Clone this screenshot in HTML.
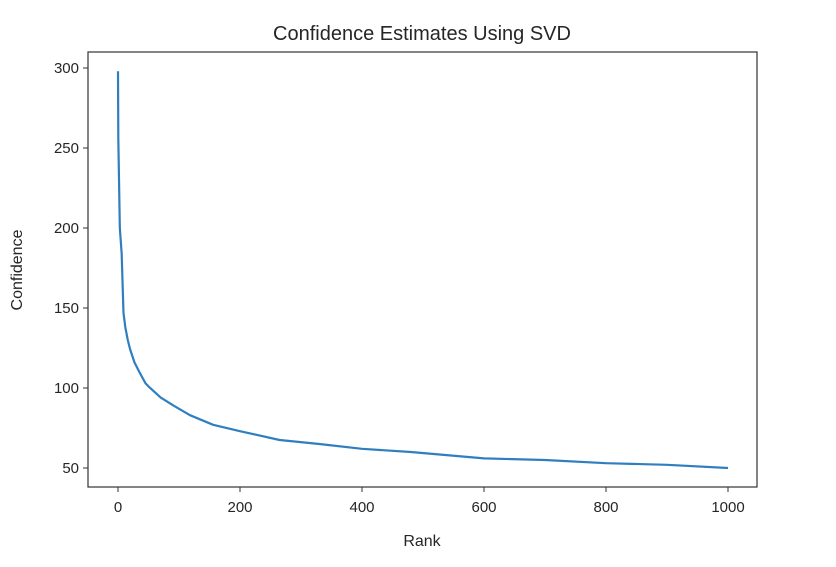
<!DOCTYPE html>
<html><head><meta charset="utf-8"><style>
body{margin:0;background:#fff;width:836px;height:562px;overflow:hidden}
text{font-family:"Liberation Sans",sans-serif;fill:#262626}
</style></head><body>
<svg id="chart" width="836" height="562">
<text x="422" y="40" text-anchor="middle" font-size="20">Confidence Estimates Using SVD</text>
<rect x="88" y="52" width="669" height="435" fill="none" stroke="#333" stroke-width="1.2"/>
<g id="xt"></g><g id="yt"></g>
<path id="line" fill="none" stroke="#2f7fc0" stroke-width="2.2" stroke-linejoin="round"/>
<text x="422" y="546" text-anchor="middle" font-size="16">Rank</text>
<text transform="translate(22,270) rotate(-90)" text-anchor="middle" font-size="16">Confidence</text>
</svg>
<script>
const ranks=[0,0.5,1,3,6,9,12,16,20,27,35,45,50,70,91,118,156,200,265,330,400,480,600,700,800,900,1000];
const confidence=[298,256,245,200,184,147,138,130,124,116,110,103,101,94,89,83,77,73,67.5,65,62,60,56,55,53,52,50];
const xTicks=[0,200,400,600,800,1000];
const yTicks=[50,100,150,200,250,300];
const xs=v=>118+v*0.61, ys=v=>468-(v-50)*1.6;
const ns='http://www.w3.org/2000/svg';
document.getElementById('line').setAttribute('d',ranks.map((r,i)=>(i?'L':'M')+xs(r)+','+ys(confidence[i])).join(''));
const xt=document.getElementById('xt'),yt=document.getElementById('yt');
xTicks.forEach(t=>{
 const l=document.createElementNS(ns,'line');l.setAttribute('x1',xs(t));l.setAttribute('x2',xs(t));l.setAttribute('y1',487);l.setAttribute('y2',492);l.setAttribute('stroke','#333');
 
 
 xt.appendChild(l);
 const s=document.createElementNS(ns,'text');s.setAttribute('x',xs(t));s.setAttribute('y',512);s.setAttribute('text-anchor','middle');s.setAttribute('font-size','15');s.textContent=t;
 
 
 xt.appendChild(s);});
yTicks.forEach(t=>{
 const l=document.createElementNS(ns,'line');l.setAttribute('x1',83);l.setAttribute('x2',88);l.setAttribute('y1',ys(t));l.setAttribute('y2',ys(t));l.setAttribute('stroke','#333');
 
 
 yt.appendChild(l);
 const s=document.createElementNS(ns,'text');s.setAttribute('x',79);s.setAttribute('y',ys(t)+5);s.setAttribute('text-anchor','end');s.setAttribute('font-size','15');s.textContent=t;
 
 
 yt.appendChild(s);});
</script>
</body></html>
